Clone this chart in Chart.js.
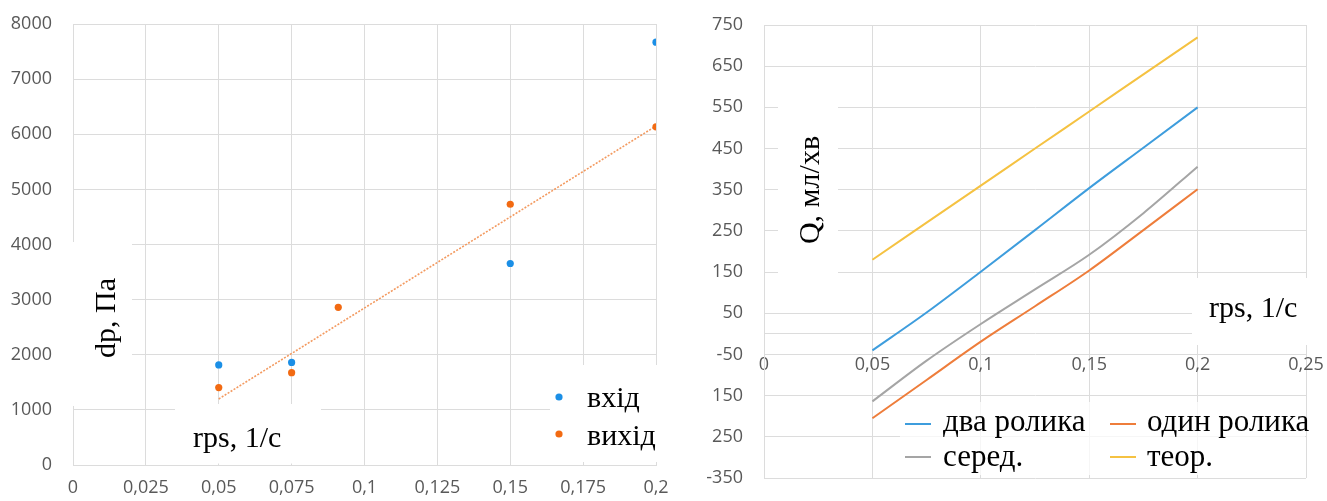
<!DOCTYPE html>
<html><head><meta charset="utf-8">
<script src="https://cdn.jsdelivr.net/npm/chart.js@4"></script>
<style>
html,body{margin:0;padding:0;background:#fff;width:1327px;height:501px;overflow:hidden}
#c1{position:absolute;left:0;top:0}
#c2{position:absolute;left:680px;top:0}
</style></head><body>
<canvas id="c1" width="680" height="501"></canvas>
<canvas id="c2" width="647" height="501"></canvas>
<script>
// ---------- left chart data ----------
const leftXTicks = [0, 0.025, 0.05, 0.075, 0.1, 0.125, 0.15, 0.175, 0.2];
const leftXLabels = ['0', '0,025', '0,05', '0,075', '0,1', '0,125', '0,15', '0,175', '0,2'];
const leftYTicks = [0, 1000, 2000, 3000, 4000, 5000, 6000, 7000, 8000];
const leftYLabels = ['0', '1000', '2000', '3000', '4000', '5000', '6000', '7000', '8000'];
const inletX = [0.05, 0.075, 0.15, 0.2];
const inletY = [1815, 1860, 3655, 7670];
const outletX = [0.05, 0.075, 0.091, 0.15, 0.2];
const outletY = [1405, 1675, 2860, 4730, 6135];
const trendX = [0.05, 0.2];
const trendY = [1198, 6150];
const leftLegend = ['вхід', 'вихід'];

// ---------- right chart data ----------
const rightX = [0.05, 0.075, 0.1, 0.125, 0.15, 0.175, 0.2];
const twoRollers = [-40, 52, 151, 252, 354, 452, 550];
const oneRoller = [-205, -112, -19, 67, 154, 252, 351];
const middle = [-164, -65, 24, 108, 192, 293, 406];
const theory = [180, 270, 360, 450, 540, 630, 720];
const rightXTicks = [0, 0.05, 0.1, 0.15, 0.2, 0.25];
const rightXLabels = ['0', '0,05', '0,1', '0,15', '0,2', '0,25'];
const rightYTicks = [-350, -250, -150, -50, 50, 150, 250, 350, 450, 550, 650, 750];
const rightYLabels = ['-350', '250', '150', '-50', '50', '150', '250', '350', '450', '550', '650', '750'];
const rightLegend = ['два ролика', 'один ролика', 'серед.', 'теор.'];

const BLUE_DOT = '#1b8fe6', ORANGE_DOT = '#f26a12';
const C_TWO = '#3e9ddd', C_ONE = '#ee7d3b', C_MID = '#a5a5a5', C_TH = '#f5c242';
const GRID = '#dcdcdc';
const TICKFONT = {family: "'Open Sans', sans-serif", size: 18};
const TICKCOLOR = '#595959';
const SERIF = "'Liberation Serif', 'DejaVu Serif', serif";

function pts(xs, ys) { return xs.map((x, i) => ({x: x, y: ys[i]})); }
function noPad(s) { s.paddingTop = 0; s.paddingBottom = 0; s.paddingLeft = 0; s.paddingRight = 0; }

// ---------- left chart ----------
const leftOverlay = {
  id: 'leftOverlay',
  afterDraw(chart) {
    const ctx = chart.ctx;
    ctx.save();
    ctx.fillStyle = '#fff';
    ctx.fillRect(70, 242, 62, 164);
    ctx.fillRect(175, 404, 146, 59.5);
    ctx.fillRect(550, 365, 110, 97);
    ctx.fillStyle = '#000';
    ctx.font = '30px ' + SERIF;
    ctx.textAlign = 'left';
    ctx.textBaseline = 'alphabetic';
    ctx.fillText('rps, 1/c', 193, 447);
    ctx.fillText(leftLegend[0], 587, 407);
    ctx.fillText(leftLegend[1], 587, 445);
    ctx.save();
    ctx.translate(115, 318);
    ctx.rotate(-Math.PI / 2);
    ctx.textAlign = 'center';
    ctx.fillText('dp, Па', 0, 0);
    ctx.restore();
    ctx.fillStyle = BLUE_DOT;
    ctx.beginPath(); ctx.arc(559, 397, 3.6, 0, Math.PI * 2); ctx.fill();
    ctx.fillStyle = ORANGE_DOT;
    ctx.beginPath(); ctx.arc(559, 434, 3.6, 0, Math.PI * 2); ctx.fill();
    ctx.restore();
  }
};

new Chart(document.getElementById('c1'), {
  type: 'scatter',
  data: {
    datasets: [
      {label: leftLegend[0], data: pts(inletX, inletY), backgroundColor: BLUE_DOT, borderColor: BLUE_DOT, pointRadius: 3.6, pointBorderWidth: 0},
      {label: leftLegend[1], data: pts(outletX, outletY), backgroundColor: ORANGE_DOT, borderColor: ORANGE_DOT, pointRadius: 3.6, pointBorderWidth: 0},
      {label: 'trend', type: 'line', data: pts(trendX, trendY), borderColor: '#f39a60', borderWidth: 1.6, borderDash: [2, 1.5], pointRadius: 0, fill: false}
    ]
  },
  options: {
    responsive: false, animation: false, devicePixelRatio: 1,
    layout: {padding: {top: 24, right: 24, left: 0, bottom: 0}},
    plugins: {legend: {display: false}, tooltip: {enabled: false}},
    scales: {
      x: {
        type: 'linear', min: 0, max: 0.2,
        afterBuildTicks: s => { s.ticks = leftXTicks.map(v => ({value: v})); },
        afterFit: s => { s.height = 36; noPad(s); },
        ticks: {callback: (v, i) => leftXLabels[i], font: TICKFONT, color: TICKCOLOR, padding: 12, maxRotation: 0, autoSkip: false},
        grid: {color: GRID, drawTicks: false},
        border: {color: GRID}
      },
      y: {
        type: 'linear', min: 0, max: 8000,
        afterBuildTicks: s => { s.ticks = leftYTicks.map(v => ({value: v})); },
        afterFit: s => { s.width = 73; noPad(s); },
        ticks: {callback: (v, i) => leftYLabels[i], font: TICKFONT, color: TICKCOLOR, padding: 21, autoSkip: false},
        grid: {color: GRID, drawTicks: false},
        border: {color: GRID}
      }
    }
  },
  plugins: [leftOverlay]
});

// ---------- right chart ----------
const rightOverlay = {
  id: 'rightOverlay',
  afterDraw(chart) {
    const ctx = chart.ctx;
    const ox = 680;
    ctx.save();
    ctx.fillStyle = '#fff';
    ctx.fillRect(778 - ox, 95, 60, 190);
    ctx.fillRect(1192 - ox, 278, 140, 67);
    ctx.globalAlpha = 0.75;
    ctx.fillRect(900 - ox, 402, 405, 73);
    ctx.globalAlpha = 1;
    ctx.fillStyle = '#000';
    ctx.font = '30px ' + SERIF;
    ctx.textAlign = 'left';
    ctx.textBaseline = 'alphabetic';
    ctx.fillText('rps, 1/c', 1209 - ox, 317);
    ctx.save();
    ctx.translate(819 - ox, 190);
    ctx.rotate(-Math.PI / 2);
    ctx.textAlign = 'center';
    ctx.fillText('Q, мл/хв', 0, 0);
    ctx.restore();
    const items = [
      {t: rightLegend[0], c: C_TWO, mx: 905, tx: 943, my: 424, by: 431},
      {t: rightLegend[1], c: C_ONE, mx: 1110, tx: 1147, my: 424, by: 431},
      {t: rightLegend[2], c: C_MID, mx: 905, tx: 943, my: 457, by: 466},
      {t: rightLegend[3], c: C_TH, mx: 1110, tx: 1147, my: 457, by: 466}
    ];
    ctx.font = '31px ' + SERIF;
    items.forEach(it => {
      ctx.strokeStyle = it.c; ctx.lineWidth = 2;
      ctx.beginPath(); ctx.moveTo(it.mx - ox, it.my); ctx.lineTo(it.mx + 26 - ox, it.my); ctx.stroke();
      ctx.fillStyle = '#000';
      ctx.fillText(it.t, it.tx - ox, it.by);
    });
    ctx.restore();
  }
};

const lineDs = (label, ys, color) => ({label: label, data: pts(rightX, ys), borderColor: color, backgroundColor: color, borderWidth: 2, pointRadius: 0, fill: false, tension: 0.4, cubicInterpolationMode: 'monotone'});

new Chart(document.getElementById('c2'), {
  type: 'line',
  data: {
    datasets: [
      lineDs(rightLegend[0], twoRollers, C_TWO),
      lineDs(rightLegend[1], oneRoller, C_ONE),
      lineDs(rightLegend[2], middle, C_MID),
      lineDs(rightLegend[3], theory, C_TH)
    ]
  },
  options: {
    responsive: false, animation: false, devicePixelRatio: 1,
    layout: {padding: {top: 25, right: 21, left: 0, bottom: 23}},
    plugins: {legend: {display: false}, tooltip: {enabled: false}},
    scales: {
      x: {
        type: 'linear', min: 0, max: 0.25, position: {y: 0},
        afterBuildTicks: s => { s.ticks = rightXTicks.map(v => ({value: v})); },
        afterFit: s => { noPad(s); },
        ticks: {callback: (v, i) => rightXLabels[i], font: TICKFONT, color: TICKCOLOR, padding: 20, maxRotation: 0, autoSkip: false},
        grid: {color: GRID, drawTicks: false},
        border: {color: GRID}
      },
      y: {
        type: 'linear', min: -350, max: 750,
        afterBuildTicks: s => { s.ticks = rightYTicks.map(v => ({value: v})); },
        afterFit: s => { s.width = 84; noPad(s); },
        ticks: {callback: (v, i) => rightYLabels[i], font: TICKFONT, color: TICKCOLOR, padding: 21, autoSkip: false},
        grid: {color: GRID, drawTicks: false},
        border: {color: GRID}
      }
    }
  },
  plugins: [rightOverlay]
});
</script>
</body></html>
